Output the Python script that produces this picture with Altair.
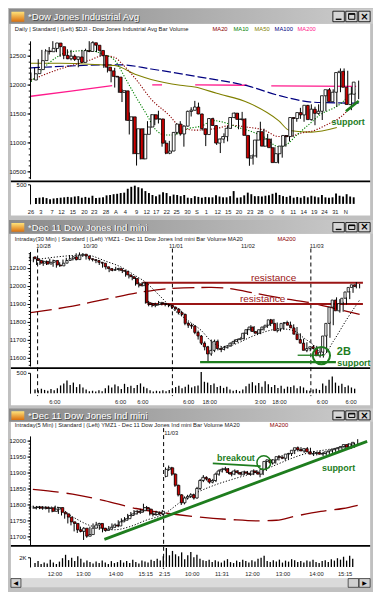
import altair as alt
import pandas as pd

W, H = 365, 584
SX, SY = W / 381.0, H / 600.0
FONT = "Liberation Sans"


def fx(v):
    return round(v * SX, 2)


def fy(v):
    return round(v * SY, 2)


# ====================== PANEL 1 : $DJI daily ======================
P1_OPEN = [
    12080, 12190, 12260, 12415, 12580, 12568, 12625, 12718, 12655, 12505,
    12447, 12492, 12437, 12478, 12384, 12586, 12572, 12723, 12680, 12590,
    12500, 12302, 12238, 12144, 12130, 11866, 11893, 11382, 11444, 10809,
    11238, 10719, 11143, 11269, 11480, 11404, 11408, 10989, 10817, 10855,
    11176, 11318, 11149, 11284, 11538, 11558, 11613, 11493, 11238, 11139,
    11413, 11294, 10991, 11061, 11103, 11246, 11432, 11508, 11400, 11406,
    11124, 10733, 10770, 11043, 11188, 10938, 11061, 10912, 10655, 10808,
    10939, 11122, 11104, 11432, 11415, 11517, 11478, 11643, 11397, 11576,
    11504, 11541, 11808, 11912, 11706, 11869, 12208, 12230, 11954, 11656,
    11835]
P1_HIGH = [
    12210, 12290, 12440, 12600, 12610, 12650, 12750, 12720, 12660, 12560,
    12610, 12600, 12520, 12480, 12600, 12620, 12750, 12750, 12690, 12600,
    12510, 12390, 12250, 12290, 12140, 11920, 11900, 11520, 11450, 11240,
    11240, 11250, 11370, 11490, 11490, 11550, 11410, 11040, 11030, 11180,
    11330, 11370, 11300, 11550, 11610, 11720, 11690, 11500, 11240, 11420,
    11430, 11300, 11070, 11160, 11290, 11440, 11520, 11510, 11530, 11420,
    11125, 10800, 11050, 11360, 11240, 11150, 11070, 10920, 10820, 10960,
    11130, 11230, 11440, 11460, 11600, 11520, 11650, 11660, 11620, 11660,
    11570, 11820, 11940, 11920, 11880, 12280, 12280, 12240, 11960, 11860,
    12070]
P1_LOW = [
    12060, 12170, 12250, 12400, 12530, 12520, 12620, 12560, 12480, 12440,
    12440, 12420, 12410, 12300, 12380, 12550, 12560, 12620, 12560, 12490,
    12290, 12210, 12040, 11950, 11860, 11700, 11380, 11140, 10800, 10604,
    10710, 10710, 11140, 11260, 11300, 11330, 10930, 10800, 10800, 10850,
    11140, 11120, 10930, 11280, 11450, 11560, 11490, 11210, 10940, 11140,
    11290, 10960, 10820, 10990, 11020, 11240, 11420, 11230, 11380, 11120,
    10600, 10620, 10740, 11040, 10930, 10930, 10900, 10650, 10640, 10740,
    10930, 11020, 11100, 11360, 11410, 11360, 11470, 11380, 11300, 11480,
    11390, 11540, 11800, 11700, 11620, 11870, 12160, 11950, 11560, 11650,
    11750]
P1_CLOSE = [
    12188, 12262, 12414, 12582, 12570, 12626, 12719, 12657, 12505, 12447,
    12492, 12437, 12479, 12385, 12587, 12572, 12724, 12681, 12592, 12501,
    12302, 12240, 12143, 12132, 11866, 11896, 11383, 11445, 10810, 11239,
    10720, 11143, 11269, 11482, 11405, 11410, 10990, 10817, 10854, 11176,
    11320, 11150, 11284, 11540, 11560, 11614, 11494, 11240, 11139, 11415,
    11296, 10992, 11062, 11105, 11247, 11433, 11509, 11401, 11408, 11125,
    10734, 10771, 11044, 11190, 10939, 11062, 10913, 10655, 10809, 10940,
    11123, 11103, 11433, 11416, 11518, 11479, 11644, 11397, 11577, 11505,
    11541, 11809, 11913, 11707, 11869, 12209, 12231, 11955, 11657, 11836,
    12044]
P1_VOL = [
    150, 160, 170, 150, 120, 140, 150, 160, 170, 180,
    170, 190, 200, 160, 180, 160, 210, 150, 160, 170,
    220, 230, 250, 260, 280, 290, 390, 440, 470, 430,
    400, 330, 280, 230, 200, 240, 300, 280, 200, 240,
    230, 200, 230, 160, 150, 200, 180, 160, 180, 170,
    170, 220, 190, 170, 170, 200, 330, 160, 170, 220,
    290, 250, 200, 200, 190, 210, 220, 260, 290, 230,
    200, 180, 210, 160, 180, 160, 200, 170, 210, 190,
    170, 230, 170, 160, 170, 270, 210, 190, 250, 190,
    170]
P1_MA20_K = [0, 7, 16, 20, 23, 25, 29, 33, 38, 41, 45, 51, 55, 59, 64, 68, 71, 74, 78, 81, 85, 89]
P1_MA20_V = [12080, 12250, 12420, 12500, 12470, 12360, 12080, 11750, 11470, 11270, 11215,
             11245, 11300, 11270, 11215, 11105, 11105, 11160, 11215, 11300, 11440, 11690]
P1_MA10_K = [0, 7, 10, 16, 20, 23, 26, 29, 32, 34, 37, 39, 43, 47, 50, 54, 57, 61, 64, 68,
             70, 73, 77, 79, 85, 89]
P1_MA10_V = [12050, 12470, 12560, 12590, 12520, 12420, 12100, 11770, 11460, 11240, 11130,
             11130, 11240, 11290, 11380, 11330, 11260, 11180, 11095, 10930, 10960, 11130,
             11350, 11460, 11670, 11920]
P1_MA50_K = [0, 8, 20, 23, 29, 33, 41, 45, 51, 60, 68, 71, 77, 84]
P1_MA50_V = [12370, 12370, 12340, 12330, 12170, 12090, 11990, 11960, 11850, 11680, 11380,
             11210, 11180, 11260]
P1_MA100_K = [0, 10, 20, 25, 33, 46, 60, 68, 77, 81, 90]
P1_MA100_V = [12290, 12320, 12340, 12340, 12270, 12135, 11970, 11815, 11700, 11690, 11680]
P1_MA200_K = [0, 11, 22.3, 33.3, 36, 45.1, 59.4, 66, 89.3]
P1_MA200_V = [11800, 11890, 11985, 11996, 11996, 11996, 11990, 11980, 11970]
P1_MA200_SEG = [0, 0, 0, 1, 1, 2, 2, 3, 3]
P1_PRICE_TICKS = [10500, 11000, 11500, 12000, 12500]
P1_DATE_POS = [0, 2.7, 5.8, 8.4, 11.5, 14.7, 17.4, 20.6, 23.3, 25.9, 29, 31.8, 34.4, 37.3,
               40, 43, 45.6, 48.2, 51.3, 54.2, 57.1, 60.2, 63, 66, 69.2, 72, 74.9, 77.8,
               80.6, 83.6, 86.5]
P1_DATE_TXT = ["26", "3", "7", "12", "15", "20", "23", "28", "A", "4", "9", "12", "17", "22",
               "25", "30", "S", "1", "12", "15", "20", "23", "28", "O", "6", "11", "14", "19",
               "24", "31", "N"]
P1_SUPPORT_K = [86.5, 90]
P1_SUPPORT_V = [11540, 11720]

# ====================== PANEL 2 : YM Dec 11, 30 min ======================
P2_OPEN = [
    12160, 12150, 12140, 12125, 12135, 12120, 12130, 12140, 12115, 12110,
    12125, 12140, 12150, 12160, 12145, 12170, 12175, 12165, 12150, 12145,
    12140, 12130, 12125, 12105, 12095, 12085, 12090, 12095, 12085, 12080,
    12060, 12050, 12040, 12010, 12000, 12015, 11905, 11900, 11890, 11895,
    11905, 11900, 11895, 11890, 11880, 11870, 11850, 11840, 11790, 11780,
    11775, 11740, 11720, 11680, 11660, 11620, 11640, 11690, 11650, 11645,
    11655, 11665, 11680, 11690, 11700, 11705, 11735, 11755, 11770, 11745,
    11735, 11755, 11770, 11780, 11810, 11790, 11750, 11760, 11790, 11795,
    11780, 11765, 11730, 11700, 11680, 11640, 11650, 11660, 11650, 11610,
    11630, 11720, 11790, 11880, 11920, 11860, 11900, 11930, 11965, 11990,
    12005]
P2_HIGH = [
    12175, 12160, 12150, 12145, 12140, 12140, 12150, 12145, 12125, 12130,
    12145, 12155, 12170, 12165, 12180, 12185, 12180, 12170, 12155, 12150,
    12145, 12135, 12130, 12110, 12100, 12095, 12105, 12100, 12090, 12085,
    12065, 12055, 12045, 12020, 12020, 12020, 11915, 11905, 11905, 11915,
    11910, 11905, 11900, 11895, 11885, 11875, 11860, 11845, 11800, 11790,
    11780, 11750, 11725, 11690, 11665, 11700, 11700, 11700, 11660, 11665,
    11670, 11685, 11700, 11705, 11715, 11740, 11760, 11780, 11775, 11750,
    11760, 11775, 11790, 11815, 11815, 11795, 11770, 11795, 11805, 11800,
    11785, 11770, 11735, 11705, 11685, 11655, 11670, 11665, 11655, 11640,
    11730, 11800, 11890, 11935, 11925, 11910, 11935, 11970, 11995, 12020,
    12010]
P2_LOW = [
    12145, 12130, 12115, 12115, 12110, 12115, 12125, 12105, 12100, 12105,
    12120, 12135, 12145, 12140, 12140, 12160, 12160, 12145, 12140, 12135,
    12125, 12115, 12100, 12090, 12075, 12080, 12085, 12080, 12070, 12050,
    12040, 12030, 12000, 11990, 11995, 11900, 11885, 11880, 11880, 11890,
    11890, 11885, 11880, 11870, 11860, 11840, 11830, 11780, 11765, 11760,
    11730, 11700, 11670, 11640, 11575, 11610, 11630, 11640, 11630, 11640,
    11650, 11660, 11675, 11685, 11695, 11700, 11725, 11745, 11735, 11725,
    11730, 11750, 11765, 11775, 11780, 11740, 11745, 11755, 11780, 11770,
    11755, 11720, 11690, 11670, 11630, 11635, 11645, 11640, 11600, 11600,
    11625, 11710, 11780, 11870, 11850, 11855, 11895, 11925, 11960, 11985,
    11985]
P2_CLOSE = [
    12150, 12140, 12125, 12135, 12120, 12130, 12140, 12115, 12110, 12125,
    12140, 12150, 12160, 12145, 12170, 12175, 12165, 12150, 12145, 12140,
    12130, 12125, 12105, 12095, 12085, 12090, 12095, 12085, 12080, 12060,
    12050, 12040, 12010, 12000, 12015, 11905, 11895, 11890, 11895, 11905,
    11900, 11895, 11890, 11880, 11870, 11850, 11840, 11790, 11780, 11775,
    11740, 11720, 11680, 11660, 11620, 11640, 11690, 11650, 11645, 11655,
    11665, 11680, 11690, 11700, 11705, 11735, 11755, 11770, 11745, 11735,
    11755, 11770, 11780, 11810, 11790, 11750, 11760, 11790, 11795, 11780,
    11765, 11730, 11700, 11680, 11640, 11650, 11660, 11650, 11610, 11630,
    11720, 11790, 11880, 11920, 11860, 11900, 11930, 11965, 11990, 12005,
    11995]
P2_VOL = [
    90, 70, 110, 80, 60, 100, 70, 120, 190, 240,
    310, 200, 260, 150, 220, 140, 90, 50, 60, 40,
    70, 50, 120, 190, 140, 210, 170, 100, 230, 150,
    180, 130, 200, 240, 160, 120, 70, 40, 60, 50,
    70, 50, 80, 110, 150, 180, 120, 160, 210, 140,
    170, 190, 520, 280, 260, 200, 240, 150, 180, 130,
    160, 90, 60, 80, 50, 90, 170, 230, 270, 190,
    250, 160, 290, 220, 150, 200, 130, 180, 110, 160,
    150, 190, 120, 170, 140, 70, 60, 90, 110, 80,
    240, 180, 330, 410, 260, 180, 230, 150, 190, 140,
    110]
P2_MA20_J = [0, 17, 23, 28, 32, 35, 39, 44, 48, 52, 55, 59, 63, 67, 71, 76, 80, 83, 86, 89,
             92, 96, 100]
P2_MA20_V = [12140, 12170, 12136, 12100, 12055, 12020, 11950, 11860, 11805, 11750, 11690,
             11660, 11680, 11715, 11742, 11760, 11750, 11710, 11670, 11615, 11690, 11810, 11920]
P2_MA200_J = [0, 11, 23, 34, 43, 55, 60, 69, 78, 85, 93, 100]
P2_MA200_V = [11850, 11880, 11925, 11965, 11985, 11990, 11985, 11955, 11925, 11905, 11870, 11840]
P2_RES_J0 = [34.2, 35.6]
P2_RES_J1 = [101, 101]
P2_RES_P = [12016, 11898]
P2_SUP_J0 = [51.6, 81.2]
P2_SUP_J1 = [92.8, 89.3]
P2_SUP_P = [11575, 11613]
P2_SUP_W = [2.2, 1.3]
P2_2B_J = [88.4]
P2_2B_P = [11611]
P2_SESSION = [2.3, 43.2, 85.2]
P2_PRICE_TICKS = [11600, 11700, 11800, 11900, 12000, 12100]
P2_DAY_POS = [4.1, 18.3, 44.3, 66.1, 87.0]
P2_DAY_TXT = ["10/28", "10/30", "11/01", "11/02", "11/03"]
P2_TIME_POS = [7.5, 27.5, 34.2, 48.1, 54.5, 69.9, 75.7, 88.7, 97.4]
P2_TIME_TXT = ["6:00", "6:00", "6:00", "6:00", "18:00", "3:00", "18:00", "6:00", "6:00"]

# ====================== PANEL 3 : YM Dec 11, 5 min ======================
P3_OPEN = [
    11788, 11790, 11792, 11788, 11791, 11787, 11789, 11778, 11785, 11790,
    11775, 11770, 11760, 11745, 11740, 11720, 11715, 11725, 11700, 11705,
    11725, 11735, 11740, 11725, 11718, 11722, 11728, 11735, 11732, 11745,
    11750, 11755, 11765, 11770, 11778, 11775, 11780, 11790, 11785, 11770,
    11768, 11775, 11770, 11888, 11910, 11915, 11895, 11860, 11830, 11805,
    11820, 11825, 11830, 11820, 11850, 11875, 11885, 11880, 11870, 11875,
    11895, 11905, 11910, 11912, 11900, 11895, 11905, 11900, 11895, 11902,
    11898, 11895, 11905, 11900, 11895, 11910, 11935, 11940, 11930, 11940,
    11950, 11948, 11945, 11958, 11960, 11970, 11978, 11972, 11968, 11975,
    11965, 11958, 11960, 11963, 11958, 11960, 11965, 11968, 11972, 11975,
    11978, 11982, 11988, 11980, 11990]
P3_HIGH = [
    11795, 11796, 11795, 11795, 11794, 11793, 11792, 11790, 11796, 11792,
    11780, 11774, 11763, 11750, 11745, 11725, 11730, 11728, 11710, 11730,
    11740, 11745, 11742, 11730, 11726, 11732, 11740, 11740, 11750, 11756,
    11760, 11770, 11776, 11782, 11782, 11786, 11802, 11795, 11788, 11775,
    11780, 11778, 11782, 11916, 11922, 11918, 11898, 11862, 11832, 11825,
    11830, 11835, 11833, 11855, 11880, 11892, 11888, 11882, 11880, 11900,
    11910, 11915, 11918, 11914, 11903, 11910, 11908, 11902, 11906, 11905,
    11900, 11910, 11908, 11902, 11915, 11940, 11945, 11942, 11945, 11955,
    11955, 11950, 11962, 11965, 11975, 11982, 11980, 11975, 11980, 11978,
    11968, 11964, 11968, 11965, 11964, 11968, 11972, 11976, 11980, 11982,
    11986, 11992, 11990, 11994, 12005]
P3_LOW = [
    11784, 11786, 11784, 11785, 11783, 11784, 11774, 11775, 11782, 11770,
    11765, 11755, 11740, 11734, 11715, 11710, 11712, 11688, 11695, 11700,
    11720, 11730, 11720, 11712, 11714, 11718, 11724, 11726, 11728, 11740,
    11745, 11750, 11760, 11765, 11768, 11770, 11775, 11780, 11765, 11762,
    11764, 11765, 11766, 11885, 11905, 11890, 11855, 11825, 11798, 11800,
    11815, 11820, 11815, 11818, 11845, 11870, 11875, 11865, 11866, 11870,
    11890, 11900, 11905, 11895, 11888, 11892, 11895, 11890, 11892, 11893,
    11890, 11892, 11895, 11885, 11892, 11905, 11930, 11925, 11928, 11938,
    11942, 11938, 11942, 11952, 11958, 11966, 11968, 11962, 11965, 11960,
    11952, 11954, 11956, 11952, 11955, 11958, 11962, 11965, 11968, 11972,
    11975, 11978, 11975, 11978, 11985]
P3_CLOSE = [
    11790, 11792, 11788, 11791, 11787, 11789, 11778, 11785, 11790, 11775,
    11770, 11760, 11745, 11740, 11720, 11715, 11725, 11700, 11705, 11725,
    11735, 11740, 11725, 11718, 11722, 11728, 11735, 11732, 11745, 11750,
    11755, 11765, 11770, 11778, 11775, 11780, 11790, 11785, 11770, 11768,
    11775, 11770, 11778, 11910, 11915, 11895, 11860, 11830, 11805, 11820,
    11825, 11830, 11820, 11850, 11875, 11885, 11880, 11870, 11875, 11895,
    11905, 11910, 11912, 11900, 11895, 11905, 11900, 11895, 11902, 11898,
    11895, 11905, 11900, 11895, 11910, 11935, 11940, 11930, 11940, 11950,
    11948, 11945, 11958, 11960, 11970, 11978, 11972, 11968, 11975, 11965,
    11958, 11960, 11963, 11958, 11960, 11965, 11968, 11972, 11975, 11978,
    11982, 11988, 11980, 11990, 11995]
P3_VOL = [
    800, 1200, 600, 900, 700, 1500, 900, 600, 1100, 1800,
    2500, 1400, 1900, 1200, 2200, 1700, 900, 1300, 1000, 700,
    1100, 800, 1300, 900, 600, 1200, 800, 1000, 1400, 900,
    1200, 800, 1500, 1000, 700, 1300, 1100, 900, 1500, 1200,
    1700, 1300, 2200, 3900, 2400, 3300, 2600, 2200, 3000, 1600,
    2400, 3100, 2000, 2500, 1700, 1400, 1200, 1500, 1000, 1400,
    1100, 900, 1300, 1600, 1000, 800, 1300, 1000, 1500, 1200,
    900, 1400, 1100, 1700, 1900, 2300, 1200, 1000, 1400, 1100,
    1500, 900, 1300, 1100, 1600, 1400, 1000, 1200, 900, 1300,
    1100, 1500, 1000, 800, 1200, 1400, 1000, 1600, 1300, 1800,
    1500, 2100, 1300, 2300, 1700]
P3_MA20_J = [0, 8.5, 13.5, 18.6, 22.6, 26.7, 31.7, 36.8, 41.8, 49.9, 54, 59, 64, 69.1, 74.1,
             79.2, 84.2, 89.2, 94.3, 99.3, 104]
P3_MA20_V = [11792, 11791, 11761, 11735, 11725, 11720, 11730, 11750, 11766, 11822, 11842,
             11862, 11878, 11893, 11908, 11929, 11949, 11964, 11972, 11980, 11985]
P3_MA200_J = [0.9, 13.5, 23.6, 33.7, 41.8, 54, 64, 72.1, 78.2, 84.2, 92.3, 99.3, 104]
P3_MA200_V = [11847, 11832, 11812, 11787, 11774, 11760, 11752, 11748, 11750, 11763, 11778,
              11787, 11797]
P3_TREND_J = [23.6, 107]
P3_TREND_V = [11690, 11998]
P3_BREAK_J = [58, 73.2]
P3_BREAK_V = [11929, 11920]
P3_CIRCLE_J = [74.2]
P3_CIRCLE_P = [11931]
P3_SESSION = [42.4]
P3_PRICE_TICKS = [11700, 11750, 11800, 11850, 11900, 11950, 12000]
P3_DAY_POS = [44.8]
P3_DAY_TXT = ["11/03"]
P3_TIME_POS = [7.9, 17.0, 27.3, 36.7, 42.7, 51.5, 60.9, 70.6, 80.3, 90.9, 100]
P3_TIME_TXT = ["12:00", "13:00", "14:00", "15:15", "2:15", "10:00", "11:31", "12:00",
               "13:00", "14:00", "15:15"]

# ---------------- texts ----------------
TITLE1 = "*Dow Jones Industrial Avg"
TITLE2 = "*Dec 11  Dow Jones Ind mini"
INFO1 = "Daily | Standard | (Left)   $DJI - Dow Jones Industrial Avg  Bar  Volume"
INFO1_MA = ["MA20", "MA10", "MA50", "MA100", "MA200"]
INFO1_MA_X = [213, 235, 257, 278, 302]
INFO2 = "Intraday(30 Min) | Standard | (Left)   YMZ1 - Dec 11 Dow Jones Ind mini  Bar  Volume  MA20"
INFO3 = "Intraday(5 Min) | Standard | (Left)   YMZ1 - Dec 11 Dow Jones Ind mini  Bar  Volume  MA20"

# ---------------- colours ----------------
RED = "#cc0000"
DKRED = "#8b0000"
GREEN_MA = "#008000"
OLIVE = "#808000"
NAVY = "#000080"
PINK = "#ff1a8c"
ANN_GREEN = "#1e7d1e"
RES_RED = "#9a1515"
FRAME = "#c0c0c0"

ONE = pd.DataFrame({"z": [0]})


# ---------------- helpers ----------------
def lin_scale(v_a, p_a, v_b, p_b, p_lo, p_hi, f):
    slope = (v_b - v_a) / (p_b - p_a)
    d0 = v_a + (p_lo - p_a) * slope
    d1 = v_a + (p_hi - p_a) * slope
    return alt.Scale(domain=[d0, d1], range=[f(p_lo), f(p_hi)], zero=False, nice=False)


def box(x1, y1, x2, y2, fill, stroke=None, sw=1.0):
    kw = {"fill": fill}
    if stroke:
        kw["stroke"] = stroke
        kw["strokeWidth"] = sw
    return alt.Chart(ONE).mark_rect(**kw).encode(
        x=alt.value(fx(x1)), x2=alt.value(fx(x2)),
        y=alt.value(fy(y1)), y2=alt.value(fy(y2)))


def note(x, y, txt, size=5.8, color="#222222", weight="normal", align="left", font=FONT):
    return alt.Chart(ONE).mark_text(
        text=txt, font=font, fontSize=size, color=color, fontWeight=weight,
        align=align, baseline="middle").encode(x=alt.value(fx(x)), y=alt.value(fy(y)))


def yaxis(values, labels=True, tick=3.0, domain=True, expr=None):
    kw = dict(orient="left", offset=-fx(22), values=values, title=None, grid=False,
              zindex=3, ticks=True, tickSize=tick, tickColor="black", tickWidth=1,
              domain=domain, labels=labels)
    if domain:
        kw.update(domainColor="black", domainWidth=1)
    if labels:
        kw.update(labelFont=FONT, labelFontSize=6.0, labelColor="#111111",
                  labelPadding=1.5, labelOverlap=False, format="d")
        if expr:
            kw["labelExpr"] = expr
    return alt.Axis(**kw)


def candles(o, h, l, c, xs, ys, width, ax):
    df = pd.DataFrame({"i": list(range(len(c))), "o": o, "h": h, "l": l, "c": c})
    base = alt.Chart(df)
    wick = base.mark_rule(color="black", strokeWidth=1).encode(
        x=alt.X("i:Q", scale=xs, axis=None),
        y=alt.Y("l:Q", scale=ys, axis=ax), y2="h:Q")
    body = base.mark_bar(size=width, stroke="black", strokeWidth=0.8).encode(
        x=alt.X("i:Q", scale=xs, axis=None),
        y=alt.Y("o:Q", scale=ys, axis=None), y2="c:Q",
        fill=alt.condition(alt.datum.c < alt.datum.o, alt.value(RED), alt.value("white")))
    return [wick, body]


def mline(k, v, xs, ys, color, dash=None, sw=1.0, ax=None, seg=None, interp="monotone"):
    d = pd.DataFrame({"i": k, "v": v})
    kw = dict(color=color, strokeWidth=sw, interpolate=interp)
    if dash:
        kw["strokeDash"] = dash
    enc = dict(x=alt.X("i:Q", scale=xs, axis=None), y=alt.Y("v:Q", scale=ys, axis=ax))
    if seg is not None:
        d["s"] = seg
        enc["detail"] = "s:N"
    return alt.Chart(d).mark_line(**kw).encode(**enc)


def volume(vals, xs, vs, width, ax):
    d = pd.DataFrame({"i": list(range(len(vals))), "v": vals})
    return alt.Chart(d).mark_bar(size=width, color="black").encode(
        x=alt.X("i:Q", scale=xs, axis=None), y=alt.Y("v:Q", scale=vs, axis=ax))


def xtext(pos, txt, xs, ypix, size=5.8, color="#222222"):
    d = pd.DataFrame({"i": pos, "t": txt})
    return alt.Chart(d).mark_text(font=FONT, fontSize=size, color=color, align="center",
                                  baseline="middle").encode(
        x=alt.X("i:Q", scale=xs, axis=None), y=alt.value(fy(ypix)), text="t:N")


def vdash(pos, xs, y1, y2):
    d = pd.DataFrame({"i": pos})
    return alt.Chart(d).mark_rule(color="black", strokeWidth=1, strokeDash=[4, 3]).encode(
        x=alt.X("i:Q", scale=xs, axis=None), y=alt.value(fy(y1)), y2=alt.value(fy(y2)))


def hseg(j0, j1, p, xs, ys, color, sw):
    d = pd.DataFrame({"a": j0, "b": j1, "p": p})
    return alt.Chart(d).mark_rule(color=color, strokeWidth=sw).encode(
        x=alt.X("a:Q", scale=xs, axis=None), x2="b:Q", y=alt.Y("p:Q", scale=ys, axis=None))


def ring(j, p, xs, ys, size, sw):
    d = pd.DataFrame({"i": j, "p": p})
    return alt.Chart(d).mark_point(shape="circle", filled=False, size=size, color=ANN_GREEN,
                                   strokeWidth=sw, opacity=1).encode(
        x=alt.X("i:Q", scale=xs, axis=None), y=alt.Y("p:Q", scale=ys, axis=None))


TITLE_GRAD = alt.LinearGradient(
    gradient="linear",
    stops=[alt.GradientStop(color="#8a8a8a", offset=0),
           alt.GradientStop(color="#cdcdcd", offset=1)],
    x1=0, x2=1, y1=0, y2=0)
ICON_GRAD = alt.LinearGradient(
    gradient="linear",
    stops=[alt.GradientStop(color="#ffe27a", offset=0),
           alt.GradientStop(color="#d9700f", offset=1)],
    x1=0, x2=0, y1=0, y2=1)


def titlebar(y0, y1, text):
    ym = (y0 + y1) / 2.0
    L = [box(0, y0, 381, y1, TITLE_GRAD),
         box(2.5, y0 + 3, 16, y1 - 2, ICON_GRAD),
         note(21, ym + 1.6, text, size=9.6, color="#4a4a4a"),
         note(20, ym + 0.6, text, size=9.6, color="white")]
    for bx in (339, 352.5, 366):
        L.append(box(bx, y0 + 2.5, bx + 12, y1 - 2, "#d6d6d6", "#000000", 0.8))
    L.append(box(342, y1 - 5.2, 348, y1 - 3.8, "#000000"))
    L.append(box(355.5, y0 + 5, 362, y1 - 4.5, "#d6d6d6", "#000000", 1))
    L.append(box(355.5, y0 + 5, 362, y0 + 6.2, "#000000"))
    L.append(note(372, ym + 0.4, "\u00d7", size=10, color="#000000", weight="bold",
                  align="center", font="DejaVu Sans"))
    return L


# ---------------- scales ----------------
X1 = alt.Scale(domain=[0, 90], range=[fx(23), fx(366)], zero=False, nice=False)
Y1 = lin_scale(12500, 48.3, 10500, 167.7, 175, 33, fy)
V1 = alt.Scale(domain=[0, 500], range=[fy(201), fy(181)], zero=False, nice=False)
X2 = alt.Scale(domain=[0, 100], range=[fx(22), fx(367)], zero=False, nice=False)
Y2 = lin_scale(12100, 266.7, 11600, 359.3, 368, 250, fy)
V2 = alt.Scale(domain=[0, 500], range=[fy(396), fy(375)], zero=False, nice=False)
X3 = alt.Scale(domain=[0, 104], range=[fx(22), fx(365)], zero=False, nice=False)
Y3 = lin_scale(12000, 445, 11700, 543.3, 552, 440, fy)
V3 = alt.Scale(domain=[0, 2000], range=[fy(575), fy(565)], zero=False, nice=False)

layers = []
# window backgrounds
layers += [box(2, 15.3, 378, 213, "white"),
           box(2, 231.8, 378, 408.5, "white"),
           box(2, 425.5, 378, 587, "white")]
layers += titlebar(0, 15.3, TITLE1)
layers += titlebar(217.7, 231.8, TITLE2)
layers += titlebar(411.7, 425.5, TITLE2)

# info lines
layers.append(note(6, 20.5, INFO1))
for t, x, c in zip(INFO1_MA, INFO1_MA_X, [DKRED, GREEN_MA, OLIVE, NAVY, PINK]):
    layers.append(note(x, 20.5, t, color=c))
layers.append(note(6, 237.3, INFO2))
layers.append(note(281, 237.3, "MA200", color=DKRED))
layers.append(note(6, 428.6, INFO3))
layers.append(note(273, 428.6, "MA200", color=DKRED))

# separators between price and volume
layers += [box(2, 176.8, 378, 178.7, "black"),
           box(2, 369.3, 378, 371.2, "black"),
           box(2, 552.4, 378, 554.3, "black")]

# ---------------- panel 1 ----------------
layers.append(mline(P1_MA200_K, P1_MA200_V, X1, Y1, PINK, sw=1.3, seg=P1_MA200_SEG,
                    interp="linear"))
layers.append(mline(P1_MA100_K, P1_MA100_V, X1, Y1, NAVY, dash=[9, 3], sw=1.2,
                    ax=yaxis(list(range(10400, 12800, 100)), labels=False, tick=1.8,
                             domain=False)))
layers.append(mline(P1_MA50_K, P1_MA50_V, X1, Y1, OLIVE, sw=1.1))
layers.append(mline(P1_MA20_K, P1_MA20_V, X1, Y1, DKRED, dash=[1.2, 1.6], sw=1.1))
layers.append(mline(P1_MA10_K, P1_MA10_V, X1, Y1, GREEN_MA, dash=[1.2, 1.6], sw=1.1))
layers += candles(P1_OPEN, P1_HIGH, P1_LOW, P1_CLOSE, X1, Y1, 2.8, yaxis(P1_PRICE_TICKS))
layers.append(volume(P1_VOL, X1, V1, 1.9, yaxis([500], tick=2.5)))
layers.append(xtext(P1_DATE_POS, P1_DATE_TXT, X1, 209.5))
layers.append(mline(P1_SUPPORT_K, P1_SUPPORT_V, X1, Y1, ANN_GREEN, sw=2.6, interp="linear"))
layers.append(note(355, 116.5, "support", size=9, color=ANN_GREEN, weight="bold",
                   align="center"))

# ---------------- panel 2 ----------------
layers.append(vdash(P2_SESSION, X2, 247, 399))
layers.append(mline(P2_MA200_J, P2_MA200_V, X2, Y2, DKRED, dash=[22, 7], sw=1.3,
                    ax=yaxis(list(range(11560, 12200, 20)), labels=False, tick=1.8,
                             domain=False)))
layers.append(mline(P2_MA20_J, P2_MA20_V, X2, Y2, "black", dash=[1.2, 1.8], sw=1))
layers.append(hseg(P2_RES_J0, P2_RES_J1, P2_RES_P, X2, Y2, RES_RED, 2))
layers += candles(P2_OPEN, P2_HIGH, P2_LOW, P2_CLOSE, X2, Y2, 2.2, yaxis(P2_PRICE_TICKS))
d_sup = pd.DataFrame({"a": P2_SUP_J0, "b": P2_SUP_J1, "p": P2_SUP_P, "w": P2_SUP_W})
layers.append(alt.Chart(d_sup).mark_rule(color=ANN_GREEN).encode(
    x=alt.X("a:Q", scale=X2, axis=None), x2="b:Q",
    y=alt.Y("p:Q", scale=Y2, axis=None),
    strokeWidth=alt.StrokeWidth("w:Q", scale=None)))
layers.append(ring(P2_2B_J, P2_2B_P, X2, Y2, 300, 2))
layers.append(note(277, 277, "resistance", size=10, color=RES_RED, align="center"))
layers.append(note(265.5, 299.4, "resistance", size=10, color=RES_RED, align="center"))
layers.append(note(350.5, 354, "2B", size=11, color=ANN_GREEN, weight="bold", align="center"))
layers.append(note(361, 365, "support", size=9, color=ANN_GREEN, weight="bold",
                   align="center"))
layers.append(volume(P2_VOL, X2, V2, 1.3, yaxis([500], tick=2.5)))
layers.append(xtext(P2_DAY_POS, P2_DAY_TXT, X2, 244))
layers.append(xtext(P2_TIME_POS, P2_TIME_TXT, X2, 405))

# ---------------- panel 3 ----------------
layers.append(vdash(P3_SESSION, X3, 432, 577))
layers.append(mline(P3_MA200_J, P3_MA200_V, X3, Y3, DKRED, dash=[26, 8], sw=1.3,
                    ax=yaxis(list(range(11690, 12010, 10)), labels=False, tick=1.8,
                             domain=False)))
layers.append(mline(P3_MA20_J, P3_MA20_V, X3, Y3, "black", dash=[1.2, 1.8], sw=1))
layers += candles(P3_OPEN, P3_HIGH, P3_LOW, P3_CLOSE, X3, Y3, 2.5, yaxis(P3_PRICE_TICKS))
layers.append(mline(P3_TREND_J, P3_TREND_V, X3, Y3, ANN_GREEN, sw=2.8, interp="linear"))
layers.append(mline(P3_BREAK_J, P3_BREAK_V, X3, Y3, ANN_GREEN, sw=1.8, interp="linear"))
layers.append(ring(P3_CIRCLE_J, P3_CIRCLE_P, X3, Y3, 190, 1.5))
layers.append(note(237.5, 462.7, "breakout", size=9, color=ANN_GREEN, weight="bold",
                   align="center"))
layers.append(note(345, 472.7, "support", size=9, color=ANN_GREEN, weight="bold",
                   align="center"))
layers.append(volume(P3_VOL, X3, V3, 1.3, yaxis([2000], tick=2.5, expr="'2K'")))
layers.append(xtext(P3_DAY_POS, P3_DAY_TXT, X3, 437.3))
layers.append(xtext(P3_TIME_POS, P3_TIME_TXT, X3, 582))

# ---------------- scrollbar ----------------
layers += [box(2, 587, 378, 596, "#dadada"),
           box(2, 587, 12.5, 596, "#d0d0d0", "#000000", 0.6),
           note(7.2, 591.6, "\u25c0", size=6, color="#000000", align="center",
                font="DejaVu Sans"),
           box(355, 587, 366, 596, "#d0d0d0", "#000000", 0.6),
           box(366.5, 587, 378, 596, "#d0d0d0", "#000000", 0.6),
           note(372.2, 591.6, "\u25b6", size=6, color="#000000", align="center",
                font="DejaVu Sans")]

chart = alt.layer(*layers).resolve_scale(
    x="independent", y="independent"
).properties(
    width=W, height=H, padding=0, background=FRAME
).configure_view(stroke=None)

chart.save("out.html", embed_options={"renderer": "svg", "actions": False})
